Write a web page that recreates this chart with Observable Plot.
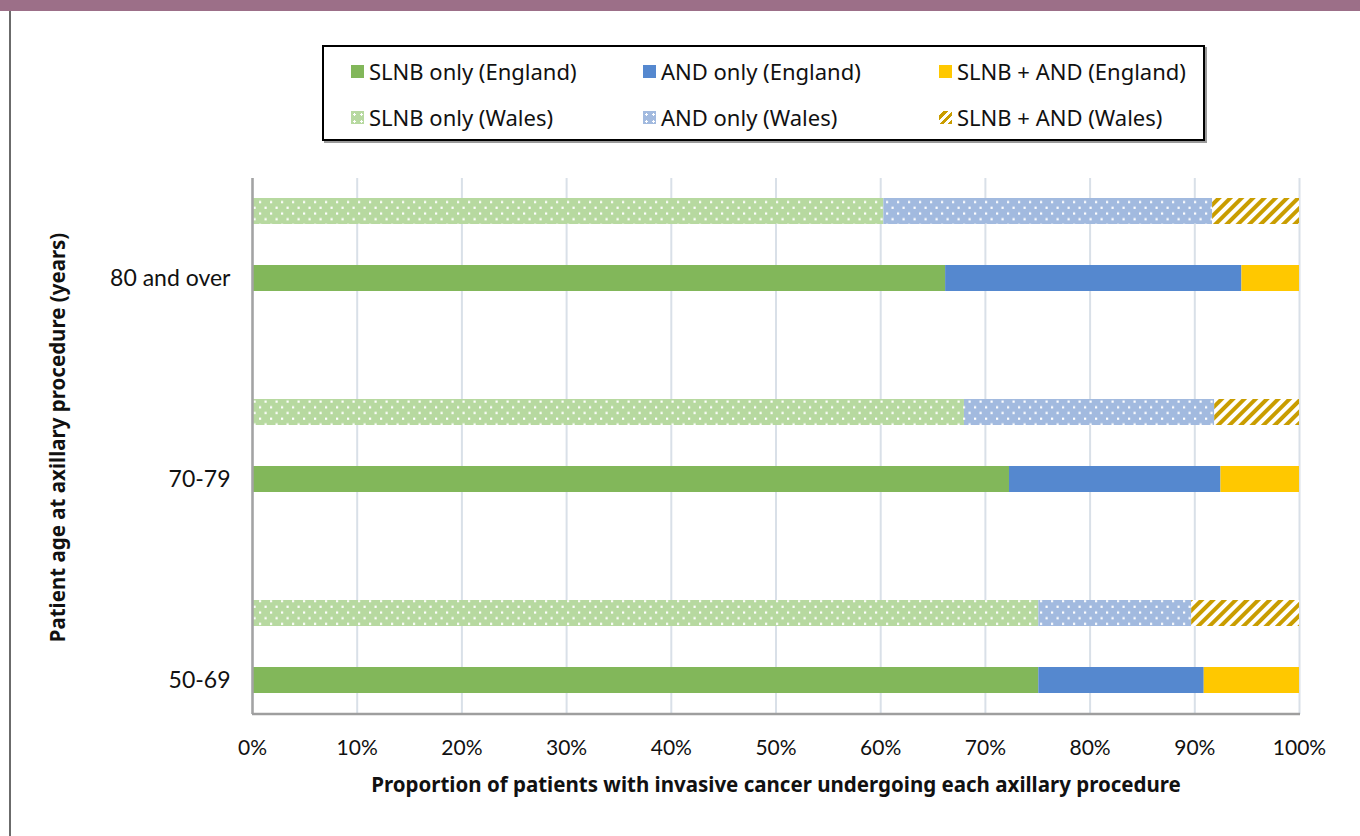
<!DOCTYPE html>
<html>
<head>
<meta charset="utf-8">
<script src="https://cdn.jsdelivr.net/npm/d3@7"></script>
<script src="https://cdn.jsdelivr.net/npm/@observablehq/plot@0.6"></script>
<style>
  html, body { margin: 0; padding: 0; background: #fff; }
  #wrap { position: relative; width: 1360px; height: 836px; overflow: hidden; }
  #band { position: absolute; left: 0; top: 0; width: 1360px; height: 11px; background: #9c6f88; }
  #frame { position: absolute; left: 9px; top: 11px; width: 2px; height: 825px; background: #6b6b6b; }
  #chart { position: absolute; left: 0; top: 0; }
  #legend { position: absolute; left: 322px; top: 45px; width: 879px; height: 92px; border: 2px solid #000;
    box-shadow: 2px 2px 0 #9a9a9a; font-family: "Noto Sans", sans-serif; font-size: 22px; color: #111; }
  .item { position: absolute; display: flex; align-items: center; height: 26px; white-space: nowrap; }
  .sw { width: 13px; height: 13px; margin-right: 5px; }
</style>
</head>
<body>
<div id="wrap">
  <div id="band"></div>
  <div id="frame"></div>
  <div id="chart"></div>
  <div id="legend"></div>
</div>
<script>
// ---- data (percent of patients) ----
const ageGroups = ["50-69", "70-79", "80 and over"];
const nations = ["England", "Wales"];
const slnbEngland = [75.1, 72.3, 66.2];
const andEngland  = [15.8, 20.2, 28.3];
const bothEngland = [9.1, 7.5, 5.5];
const slnbWales   = [75.1, 68.0, 60.3];
const andWales    = [14.6, 23.9, 31.4];
const bothWales   = [10.3, 8.1, 8.3];
const xTicks = [0, 10, 20, 30, 40, 50, 60, 70, 80, 90, 100];
const seriesNames = ["SLNB only (England)", "AND only (England)", "SLNB + AND (England)",
                     "SLNB only (Wales)", "AND only (Wales)", "SLNB + AND (Wales)"];

// ---- styles ----
const fills = {
  "SLNB only (England)": "#82b75a",
  "AND only (England)": "#5588cf",
  "SLNB + AND (England)": "#ffc800",
  "SLNB only (Wales)": "url(#dotGreen)",
  "AND only (Wales)": "url(#dotBlue)",
  "SLNB + AND (Wales)": "url(#hatchGold)"
};

// rows: key per (age, nation); blank spacer rows between groups
const rowKey = (a, n) => a + "|" + n;
const yDomain = ["80 and over|Wales", "80 and over|England", "gap2",
                 "70-79|Wales", "70-79|England", "gap1",
                 "50-69|Wales", "50-69|England"];

const segs = [];
ageGroups.forEach((a, i) => {
  const e = [slnbEngland[i], andEngland[i], bothEngland[i]];
  const w = [slnbWales[i], andWales[i], bothWales[i]];
  let c = 0;
  e.forEach((v, j) => { segs.push({row: rowKey(a, "England"), series: seriesNames[j], x1: c, x2: c + v}); c += v; });
  c = 0;
  w.forEach((v, j) => { segs.push({row: rowKey(a, "Wales"), series: seriesNames[3 + j], x1: c, x2: c + v}); c += v; });
});

const fontAxis = "Lato, 'Noto Sans', sans-serif";

const chart = Plot.plot({
  width: 1360,
  height: 836,
  marginLeft: 252,
  marginRight: 61,
  marginTop: 178,
  marginBottom: 122,
  style: { fontFamily: fontAxis, fontSize: "21px", color: "#111", background: "transparent" },
  x: { domain: [0, 100] },
  y: { domain: yDomain, paddingInner: 0.61, paddingOuter: 0.305 },
  marks: [
    Plot.gridX(xTicks, { stroke: "#d9e0e8", strokeWidth: 2, strokeOpacity: 1 }),
    ...seriesNames.map(s => Plot.barX(segs.filter(d => d.series === s), {
      x1: "x1", x2: "x2", y: "row", fill: fills[s], inset: 0
    })),
    Plot.ruleX([0], { stroke: "#a3a3a3", strokeWidth: 2.5 }),
    Plot.axisX({ ticks: xTicks, tickFormat: d => d + "%", tickSize: 0, tickPadding: 26,
      label: "Proportion of patients with invasive cancer undergoing each axillary procedure",
      labelAnchor: "center", labelArrow: "none", labelOffset: 77 }),
    Plot.axisY({ ticks: ageGroups.map(a => rowKey(a, "England")), tickFormat: d => d.split("|")[0],
      tickSize: 0, tickPadding: 22, fontSize: 23,
      label: "Patient age at axillary procedure (years)", labelAnchor: "center", labelArrow: "none", labelOffset: 202 })
  ]
});

// pattern definitions
const svg = d3.select(chart);
const defs = svg.insert("defs", ":first-child");
function dots(id, bg) {
  const p = defs.append("pattern").attr("id", id).attr("patternUnits", "userSpaceOnUse")
    .attr("width", 11).attr("height", 11.4).attr("x", 252).attr("y", 0);
  p.append("rect").attr("width", 11).attr("height", 11.4).attr("fill", bg);
  p.append("rect").attr("x", 1.5).attr("y", 1.5).attr("width", 2.2).attr("height", 2.2).attr("fill", "#fff");
  p.append("rect").attr("x", 7).attr("y", 7.2).attr("width", 2.2).attr("height", 2.2).attr("fill", "#fff");
}
dots("dotGreen", "#b7d9a0");
dots("dotBlue", "#a2badf");
const h = defs.append("pattern").attr("id", "hatchGold").attr("patternUnits", "userSpaceOnUse")
  .attr("width", 8).attr("height", 8).attr("patternTransform", "rotate(45)");
h.append("rect").attr("width", 8).attr("height", 8).attr("fill", "#fff");
h.append("rect").attr("width", 4).attr("height", 8).attr("fill", "#c99d00");

// bottom axis line
const xs = chart.scale("x");
svg.append("line").attr("x1", xs.apply(0)).attr("x2", xs.apply(100) + 1).attr("y1", 714).attr("y2", 714)
  .attr("stroke", "#9e9e9e").attr("stroke-width", 2.5);

// axis titles bold
svg.selectAll("[aria-label='x-axis label'] text, [aria-label='y-axis label'] text")
  .attr("font-weight", "bold").attr("font-size", "20.5px").attr("font-family", "'Noto Sans', sans-serif");
// nudge y title upward (along its rotated baseline)
svg.selectAll("[aria-label='y-axis label'] text").each(function () {
  const t = this.getAttribute("transform") || "";
  this.setAttribute("transform", t + " translate(9,0)");
});

document.getElementById("chart").appendChild(chart);

// legend
const legend = document.getElementById("legend");
const colX = [27, 319, 615];
const rowY = [11, 57];
const legendSwatch = {
  "SLNB only (Wales)": "background: #b7d9a0; background-image: radial-gradient(#fff 1px, transparent 1.2px); background-size: 7px 7px;",
  "AND only (Wales)": "background: #a2badf; background-image: radial-gradient(#fff 1px, transparent 1.2px); background-size: 7px 7px;",
  "SLNB + AND (Wales)": "background: repeating-linear-gradient(-45deg, #c99d00 0 3px, #fff 3px 6px);"
};
seriesNames.forEach((s, i) => {
  const col = i % 3, row = Math.floor(i / 3);
  const div = document.createElement("div");
  div.className = "item";
  div.style.left = colX[col] + "px";
  div.style.top = rowY[row] + "px";
  const sw = document.createElement("div");
  sw.className = "sw";
  sw.style.cssText = legendSwatch[s] || ("background:" + fills[s] + ";");
  const t = document.createElement("span");
  t.textContent = s;
  div.appendChild(sw); div.appendChild(t);
  legend.appendChild(div);
});
</script>
</body>
</html>
